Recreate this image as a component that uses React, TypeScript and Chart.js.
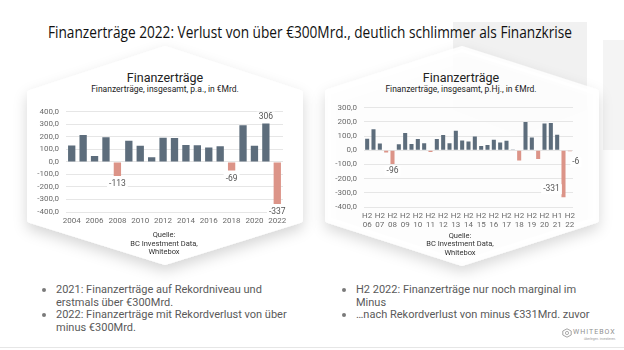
import React, { useEffect, useLayoutEffect, useRef, useState } from "react";
import { Chart, registerables } from "chart.js";

Chart.register(...registerables);

// ---------- data ----------
const yearCategories = [
  "2004", "2005", "2006", "2007", "2008", "2009", "2010", "2011", "2012", "2013",
  "2014", "2015", "2016", "2017", "2018", "2019", "2020", "2021", "2022",
];
const yearValues = [130, 215, 48, 197, -113, 168, 128, 38, 192, 190, 135, 132, 115, 125, -69, 292, 128, 306, -337];
const yearLabelledIndices = [4, 14, 17, 18];

const halfYearCategories = [
  "H2 06", "H1 07", "H2 07", "H1 08", "H2 08", "H1 09", "H2 09", "H1 10", "H2 10", "H1 11",
  "H2 11", "H1 12", "H2 12", "H1 13", "H2 13", "H1 14", "H2 14", "H1 15", "H2 15", "H1 16",
  "H2 16", "H1 17", "H2 17", "H1 18", "H2 18", "H1 19", "H2 19", "H1 20", "H2 20", "H1 21",
  "H2 21", "H1 22", "H2 22",
];
const halfYearValues = [
  82, 148, 48, -15, -96, 42, 122, 45, 80, 50,
  -12, 80, 108, 50, 138, 70, 62, 98, 30, 38,
  75, 55, 68, 2, -72, 200, 90, -62, 190, 192,
  110, -331, -6,
];
// tick labels exactly as printed under every second bar
const halfYearTickLabels = [
  "H2 06", "H2 07", "H2 08", "H2 09", "H2 10", "H2 11", "H2 12", "H2 13", "H2 14",
  "H2 15", "H2 16", "H2 17", "H2 18", "H2 19", "H2 20", "H1 21", "H2 22",
];
const halfYearLabelledIndices = [4, 31, 32];

// ---------- styles ----------
const POS = "#5d6d7c";
const NEG = "#dc9488";
const GRID = "#e6e6e6";
const TICK = "#6b6b6b";
const FONT = "Roboto, 'Noto Sans', sans-serif";

type LabelItem = { index: number; dx: number; dy: number };

const valueLabelPlugin = {
  id: "valueLabels",
  afterDatasetsDraw(chart: any, _args: any, opts: any) {
    const items: LabelItem[] = (opts && opts.items) || [];
    const ctx = chart.ctx as CanvasRenderingContext2D;
    const meta = chart.getDatasetMeta(0);
    const data = chart.data.datasets[0].data as number[];
    ctx.save();
    ctx.font = `8.5px ${FONT}`;
    ctx.textAlign = "center";
    ctx.textBaseline = "middle";
    items.forEach((it) => {
      const el = meta.data[it.index];
      if (!el) return;
      const text = String(data[it.index]);
      const x = el.x + it.dx;
      const y = el.y + it.dy;
      const w = ctx.measureText(text).width;
      ctx.fillStyle = "#ffffff";
      ctx.fillRect(x - w / 2 - 2, y - 5, w + 4, 10);
      ctx.fillStyle = "#555555";
      ctx.fillText(text, x, y);
    });
    ctx.restore();
  },
};

type BarProps = {
  categories: string[];
  values: number[];
  tickLabel: (i: number) => string | string[];
  yMin: number;
  yMax: number;
  labels: LabelItem[];
  box: { x: number; y: number; w: number; h: number };
  pad: { left: number; right: number; top: number; bottom: number };
  xHeight: number;
};

function BarChart(p: BarProps) {
  const ref = useRef<HTMLCanvasElement>(null);
  useEffect(() => {
    const chart = new Chart(ref.current as HTMLCanvasElement, {
      type: "bar",
      data: {
        labels: p.categories,
        datasets: [
          {
            data: p.values,
            backgroundColor: p.values.map((v) => (v < 0 ? NEG : POS)),
            barPercentage: 0.8,
            categoryPercentage: 0.8,
          },
        ],
      },
      options: {
        animation: false,
        responsive: false,
        maintainAspectRatio: false,
        devicePixelRatio: 1,
        layout: { padding: p.pad },
        plugins: {
          legend: { display: false },
          tooltip: { enabled: false },
          valueLabels: { items: p.labels },
        } as any,
        scales: {
          x: {
            grid: { display: false, drawTicks: false },
            border: { display: false },
            ticks: {
              autoSkip: false,
              maxRotation: 0,
              minRotation: 0,
              padding: 4,
              color: TICK,
              font: { family: FONT, size: 8 },
              callback: (_v: any, i: number) => p.tickLabel(i),
            },
            afterFit: (s: any) => {
              s.height = p.xHeight;
            },
          },
          y: {
            min: p.yMin,
            max: p.yMax,
            grid: { color: GRID, drawTicks: false, lineWidth: 1 },
            border: { display: false },
            ticks: {
              stepSize: 100,
              autoSkip: false,
              padding: 7,
              color: TICK,
              font: { family: FONT, size: 8 },
              callback: (v: any) => Number(v).toFixed(1).replace(".", ","),
            },
            afterFit: (s: any) => {
              s.width = 46;
            },
          },
        },
      } as any,
      plugins: [valueLabelPlugin as any],
    });
    return () => chart.destroy();
  }, []);
  return (
    <canvas
      ref={ref}
      width={p.box.w}
      height={p.box.h}
      style={{ position: "absolute", left: p.box.x, top: p.box.y, width: p.box.w, height: p.box.h }}
    />
  );
}

const centerText = (x: number, y: number, text: React.ReactNode, style: React.CSSProperties) => (
  <div
    style={{
      position: "absolute",
      left: x - 300,
      top: y,
      width: 600,
      textAlign: "center",
      whiteSpace: "nowrap",
      transform: "translateY(-50%)",
      ...style,
    }}
  >
    {text}
  </div>
);

function FitTitle({ text, cx, cy, width }: { text: string; cx: number; cy: number; width: number }) {
  const ref = useRef<HTMLSpanElement>(null);
  const [scale, setScale] = useState(1);
  useLayoutEffect(() => {
    if (ref.current) {
      const w = ref.current.getBoundingClientRect().width;
      if (w > 0) setScale(width / w);
    }
  }, []);
  return (
    <div
      style={{
        position: "absolute",
        left: cx - 400,
        top: cy,
        width: 800,
        textAlign: "center",
        whiteSpace: "nowrap",
        transform: `translateY(-50%) scaleX(${scale})`,
        transformOrigin: `400px 50%`,
        fontFamily: "'Open Sans', sans-serif",
        fontSize: 16.5,
        color: "#111111",
      }}
    >
      <span ref={ref}>{text}</span>
    </div>
  );
}

export default function App() {
  const bulletText: React.CSSProperties = {
    position: "absolute",
    fontFamily: FONT,
    fontSize: 11,
    lineHeight: "12.5px",
    color: "#5a5a5a",
    whiteSpace: "nowrap",
  };
  const dot = (x: number, y: number) => (
    <div style={{ position: "absolute", left: x, top: y, width: 3.5, height: 3.5, borderRadius: 2, background: "#7a7a7a" }} />
  );
  return (
    <div
      style={{
        position: "fixed",
        left: 0,
        top: 0,
        width: 624,
        height: 350,
        background: "#ffffff",
        overflow: "hidden",
        fontFamily: FONT,
      }}
    >
      <svg width={624} height={350} style={{ position: "absolute", left: 0, top: 0 }}>
        <defs>
          <filter id="sh" x="-20%" y="-20%" width="140%" height="150%">
            <feDropShadow dx="0" dy="6" stdDeviation="7" floodColor="#000" floodOpacity="0.16" />
          </filter>
        </defs>
        <polygon points="453,22 453,110 520,136 587,110 587,22" fill="#f1f1f1" />
        <polygon points="603,40 624,40 624,150 603,150" fill="#f4f4f4" />
        <line x1="0" y1="347.5" x2="624" y2="347.5" stroke="#e6e6e6" strokeWidth="1" />
        <polygon
          points="30,93 165,49 300,93 300,220 165,262 30,220"
          fill="#ffffff"
          stroke="#ffffff"
          strokeWidth="6"
          strokeLinejoin="round"
          filter="url(#sh)"
        />
        <polygon
          points="328,92 462,49 596,92 596,220 462,263 328,220"
          fill="#ffffff"
          fillOpacity="0.9"
          stroke="#ffffff"
          strokeOpacity="0.9"
          strokeWidth="6"
          strokeLinejoin="round"
          filter="url(#sh)"
        />
      </svg>

      <FitTitle
        text="Finanzerträge 2022: Verlust von über €300Mrd., deutlich schlimmer als Finanzkrise"
        cx={310}
        cy={31}
        width={524}
      />

      {centerText(165, 77, "Finanzerträge", { fontSize: 12.5, color: "#222" })}
      {centerText(165, 89, "Finanzerträge, insgesamt, p.a., in €Mrd.", { fontSize: 8.5, color: "#222" })}
      {centerText(461, 77, "Finanzerträge", { fontSize: 12.5, color: "#222" })}
      {centerText(461, 89, "Finanzerträge, insgesamt, p.Hj., in €Mrd.", { fontSize: 8.5, color: "#222" })}

      <BarChart
        categories={yearCategories}
        values={yearValues}
        tickLabel={(i) => (i % 2 === 0 ? yearCategories[i] : "")}
        yMin={-400}
        yMax={400}
        labels={[
          { index: yearLabelledIndices[0], dx: 0, dy: 8 },
          { index: yearLabelledIndices[1], dx: 0, dy: 8 },
          { index: yearLabelledIndices[2], dx: 0, dy: -7 },
          { index: yearLabelledIndices[3], dx: 0, dy: 8 },
        ]}
        box={{ x: 20, y: 100, w: 280, h: 130 }}
        pad={{ left: 0, right: 17, top: 7, bottom: 0 }}
        xHeight={18}
      />
      <BarChart
        categories={halfYearCategories}
        values={halfYearValues}
        tickLabel={(i) => (i % 2 === 0 ? halfYearTickLabels[i / 2].split(" ") : "")}
        yMin={-400}
        yMax={300}
        labels={[
          { index: halfYearLabelledIndices[0], dx: 0, dy: 7 },
          { index: halfYearLabelledIndices[1], dx: -12, dy: -8 },
          { index: halfYearLabelledIndices[2], dx: 6, dy: 11 },
        ]}
        box={{ x: 318, y: 96, w: 280, h: 140 }}
        pad={{ left: 0, right: 25, top: 7, bottom: 0 }}
        xHeight={29}
      />

      {centerText(164, 234, "Quelle:", { fontSize: 7.5, color: "#333" })}
      {centerText(164, 243, "BC Investment Data,", { fontSize: 7.5, color: "#333" })}
      {centerText(164, 251, "Whitebox", { fontSize: 7.5, color: "#333" })}
      {centerText(460, 235, "Quelle:", { fontSize: 7.5, color: "#333" })}
      {centerText(460, 243, "BC Investment Data,", { fontSize: 7.5, color: "#333" })}
      {centerText(460, 252, "Whitebox", { fontSize: 7.5, color: "#333" })}

      {dot(42, 288)}
      <div style={{ ...bulletText, left: 56, top: 284 }}>
        2021: Finanzerträge auf Rekordniveau und
        <br />
        erstmals über €300Mrd.
      </div>
      {dot(42, 313)}
      <div style={{ ...bulletText, left: 56, top: 309 }}>
        2022: Finanzerträge mit Rekordverlust von über
        <br />
        minus €300Mrd.
      </div>
      {dot(342, 288)}
      <div style={{ ...bulletText, left: 356, top: 284 }}>
        H2 2022: Finanzerträge nur noch marginal im
        <br />
        Minus
      </div>
      {dot(342, 313)}
      <div style={{ ...bulletText, left: 356, top: 309 }}>…nach Rekordverlust von minus €331Mrd. zuvor</div>

      <svg width={10} height={10} style={{ position: "absolute", left: 562, top: 328 }}>
        <polygon points="5,0.8 9.2,3 9.2,7 5,9.2 0.8,7 0.8,3" fill="none" stroke="#9a9a9a" strokeWidth="0.9" />
        <circle cx="5" cy="5" r="1.6" fill="none" stroke="#9a9a9a" strokeWidth="0.8" />
      </svg>
      <div
        style={{
          position: "absolute",
          left: 573,
          top: 328,
          fontSize: 7,
          letterSpacing: 1,
          color: "#8f8f8f",
          whiteSpace: "nowrap",
          lineHeight: "9px",
        }}
      >
        WHITEBOX
      </div>
      <div
        style={{
          position: "absolute",
          left: 584,
          top: 337,
          fontSize: 3.2,
          color: "#9a9a9a",
          whiteSpace: "nowrap",
          lineHeight: "4px",
        }}
      >
        überlegen. investieren.
      </div>
    </div>
  );
}
